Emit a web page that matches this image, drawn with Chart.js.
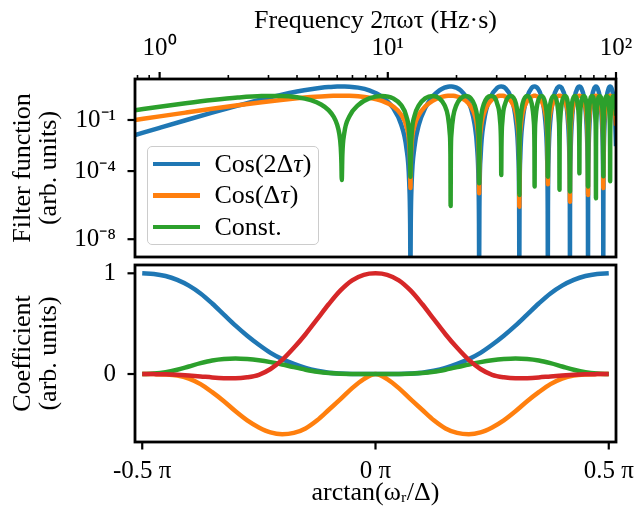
<!DOCTYPE html>
<html>
<head>
<meta charset="utf-8">
<script src="https://cdn.jsdelivr.net/npm/chart.js@4.4.1/dist/chart.umd.min.js"></script>
<style>
  html, body { margin: 0; padding: 0; background: #fff; }
  #wrap { position: relative; width: 637px; height: 508px; overflow: hidden; }
  #wrap canvas { position: absolute; left: 0; }
  #legend { position: absolute; left: 146.5px; top: 146px; width: 172px; height: 99px; box-sizing: border-box;
            border: 1.3px solid #cccccc; border-radius: 5px; background: rgba(255,255,255,0.8);
            padding: 1px 0 0 5px; font: 26px 'Liberation Serif', 'Times New Roman', serif; color: #000; }
  #legend .row { height: 31.5px; display: flex; align-items: center; white-space: nowrap; }
  #legend .sw { display: inline-block; width: 47px; height: 4.5px; margin-right: 15px; }
</style>
</head>
<body>
<div id="wrap">
  <canvas id="topChart" width="637" height="261" style="top:0;width:637px;height:261px"></canvas>
  <canvas id="botChart" width="637" height="247" style="top:261px;width:637px;height:247px"></canvas>
  <div id="legend"></div>
</div>
<script>
// ================= DATA =================
// Top panel: filter functions vs frequency 2πωτ (Hz·s)
const freq = [
  0.78, 1.0, 1.3, 1.7, 2.2, 2.8, 3.4, 4.0, 4.6, 5.1, 5.5, 5.8, 6.0, 6.13, 6.22, 6.262,
  6.2832,
  6.3209, 6.4403, 6.7858, 7.4142, 8.2938, 9.4248, 10.5558, 11.4354, 12.0637, 12.4093, 12.5287,
  12.5664,
  12.6041, 12.7234, 13.0690, 13.6973, 14.5770, 15.7080, 16.8389, 17.7186, 18.3469, 18.6925, 18.8119,
  18.8496,
  18.8873, 19.0067, 19.3522, 19.9806, 20.8602, 21.9911, 23.1221, 24.0017, 24.6301, 24.9757, 25.0950,
  25.1327,
  25.1956, 25.5097, 26.3894, 28.2743, 30.1593, 31.0389, 31.3531,
  31.4159,
  31.4788, 31.7929, 32.6726, 34.5575, 36.4425, 37.3221, 37.6363,
  37.6991,
  37.7620, 38.0761, 38.9557, 40.8407, 42.7257, 43.6053, 43.9195,
  43.9823,
  44.0451, 44.3593, 45.2389, 47.1239, 49.0089, 49.8885, 50.2027,
  50.2655,
  50.3283, 50.6425, 51.5221, 53.4071, 55.2920, 56.1717, 56.4858,
  56.5487,
  56.6115, 56.9257, 57.8053, 59.6903, 61.5752, 62.4549, 62.7690,
  62.8319,
  62.8947, 63.2088, 64.0885, 65.9734, 67.8584, 68.7381, 69.0522,
  69.1150,
  69.1779, 69.4920, 70.3717, 72.2566, 74.1416, 75.0212, 75.3354,
  75.3982,
  75.4611, 75.7752, 76.6549, 78.5398, 80.4248, 81.3044, 81.6186,
  81.6814,
  81.7443, 82.0584, 82.9380, 84.8230, 86.7080, 87.5876, 87.9018,
  87.9646,
  88.0274, 88.3416, 89.2212, 91.1062, 92.9911, 93.8708, 94.1850,
  94.2478,
  94.3106, 94.6248, 95.5044, 97.3894, 99.2743, 100
];
const filterCos2 = [
  0.0131, 0.0348, 0.0967, 0.269, 0.694, 1.60, 2.96, 4.66, 6.46, 7.79, 8.61, 9.03, 9.21, 9.27, 9.30, 9.30,
  9.30,
  9.30, 9.27, 9.01, 7.91, 5.48, 2.325, 0.501, 0.0563, 2.29e-3, 2.21e-5, 7.34e-8,
  1e-10,
  7.34e-8, 2.21e-5, 2.29e-3, 0.0563, 0.501, 2.325, 5.48, 7.91, 9.01, 9.27, 9.30,
  9.30,
  9.30, 9.27, 9.01, 7.91, 5.48, 2.325, 0.501, 0.0563, 2.29e-3, 2.21e-5, 7.34e-8,
  1e-10,
  5.66e-7, 7.29e-4, 0.0848, 2.325, 7.61, 9.14, 9.30,
  9.30,
  9.30, 9.14, 7.61, 2.325, 0.0848, 7.29e-4, 5.66e-7,
  1e-10,
  5.66e-7, 7.29e-4, 0.0848, 2.325, 7.61, 9.14, 9.30,
  9.30,
  9.30, 9.14, 7.61, 2.325, 0.0848, 7.29e-4, 5.66e-7,
  1e-10,
  5.66e-7, 7.29e-4, 0.0848, 2.325, 7.61, 9.14, 9.30,
  9.30,
  9.30, 9.14, 7.61, 2.325, 0.0848, 7.29e-4, 5.66e-7,
  1e-10,
  5.66e-7, 7.29e-4, 0.0848, 2.325, 7.61, 9.14, 9.30,
  9.30,
  9.30, 9.14, 7.61, 2.325, 0.0848, 7.29e-4, 5.66e-7,
  1e-10,
  5.66e-7, 7.29e-4, 0.0848, 2.325, 7.61, 9.14, 9.30,
  9.30,
  9.30, 9.14, 7.61, 2.325, 0.0848, 7.29e-4, 5.66e-7,
  1e-10,
  5.66e-7, 7.29e-4, 0.0848, 2.325, 7.61, 9.14, 9.30,
  9.30,
  9.30, 9.14, 7.61, 2.325, 0.0848, 2.85e-3
];
const filterCos = [
  0.0999, 0.163, 0.271, 0.452, 0.727, 1.10, 1.50, 1.88, 2.22, 2.43, 2.56, 2.62, 2.65, 2.66, 2.66, 2.66,
  2.66,
  2.66, 2.656, 2.618, 2.453, 2.043, 1.33, 0.617, 0.207, 0.0418, 4.10e-3, 2.36e-4,
  1.0e-5,
  2.36e-4, 4.10e-3, 0.0418, 0.207, 0.617, 1.33, 2.043, 2.453, 2.618, 2.656, 2.66,
  2.66,
  2.66, 2.656, 2.618, 2.453, 2.043, 1.33, 0.617, 0.207, 0.0418, 4.10e-3, 2.36e-4,
  5.0e-6,
  6.56e-4, 0.0236, 0.254, 1.33, 2.406, 2.636, 2.659,
  2.66,
  2.659, 2.636, 2.406, 1.33, 0.254, 0.0236, 6.56e-4,
  8.1e-7,
  6.56e-4, 0.0236, 0.254, 1.33, 2.406, 2.636, 2.659,
  2.66,
  2.659, 2.636, 2.406, 1.33, 0.254, 0.0236, 6.56e-4,
  1.7e-5,
  6.56e-4, 0.0236, 0.254, 1.33, 2.406, 2.636, 2.659,
  2.66,
  2.659, 2.636, 2.406, 1.33, 0.254, 0.0236, 6.56e-4,
  1.6e-6,
  6.56e-4, 0.0236, 0.254, 1.33, 2.406, 2.636, 2.659,
  2.66,
  2.659, 2.636, 2.406, 1.33, 0.254, 0.0236, 6.56e-4,
  4.0e-6,
  6.56e-4, 0.0236, 0.254, 1.33, 2.406, 2.636, 2.659,
  2.66,
  2.659, 2.636, 2.406, 1.33, 0.254, 0.0236, 6.56e-4,
  1.0e-5,
  6.56e-4, 0.0236, 0.254, 1.33, 2.406, 2.636, 2.659,
  2.66,
  2.659, 2.636, 2.406, 1.33, 0.254, 0.0466
];
const filterConst = [
  0.376, 0.598, 0.952, 1.47, 2.07, 2.52, 2.56, 2.15, 1.45, 0.809, 0.379, 0.149, 0.0518, 0.0152, 0.00259, 0.000292,
  3.0e-5,
  9.24e-4, 0.016, 0.161, 0.747, 1.854, 2.6, 1.854, 0.747, 0.161, 0.016, 9.24e-4,
  4.7e-5,
  9.24e-4, 0.016, 0.161, 0.747, 1.854, 2.6, 1.854, 0.747, 0.161, 0.016, 9.24e-4,
  8.9e-7,
  9.24e-4, 0.016, 0.161, 0.747, 1.854, 2.6, 1.854, 0.747, 0.161, 0.016, 9.24e-4,
  1.9e-5,
  2.57e-3, 0.0913, 0.898, 2.6, 0.898, 0.0913, 2.57e-3,
  5.9e-5,
  2.57e-3, 0.0913, 0.898, 2.6, 0.898, 0.0913, 2.57e-3,
  4.0e-6,
  2.57e-3, 0.0913, 0.898, 2.6, 0.898, 0.0913, 2.57e-3,
  1.26e-5,
  2.57e-3, 0.0913, 0.898, 2.6, 0.898, 0.0913, 2.57e-3,
  4.7e-5,
  2.57e-3, 0.0913, 0.898, 2.6, 0.898, 0.0913, 2.57e-3,
  7.9e-6,
  2.57e-3, 0.0913, 0.898, 2.6, 0.898, 0.0913, 2.57e-3,
  6.3e-6,
  2.57e-3, 0.0913, 0.898, 2.6, 0.898, 0.0913, 2.57e-3,
  7.4e-5,
  2.57e-3, 0.0913, 0.898, 2.6, 0.898, 0.0913, 2.57e-3,
  1.26e-5,
  2.57e-3, 0.0913, 0.898, 2.6, 0.898, 0.0913, 2.57e-3,
  2.5e-6,
  2.57e-3, 0.0913, 0.898, 2.6, 0.898, 0.0913, 2.57e-3,
  5.0e-5,
  2.57e-3, 0.0913, 0.898, 2.6, 0.898, 0.0913, 2.57e-3,
  2.5e-5,
  2.57e-3, 0.0913, 0.898, 2.6, 0.898, 0.179
];
const topSeriesNames = ['Cos(2Δτ)', 'Cos(Δτ)', 'Const.'];
const freqTicks = [0.8, 0.9, 1, 2, 3, 4, 5, 6, 7, 8, 9, 10, 20, 30, 40, 50, 60, 70, 80, 90, 100];
const freqMajorTicks = [1, 10, 100];
const filterTicks = [1e-8, 1e-4, 1e-1];

// Bottom panel: coefficients vs arctan(ωr/Δ), angle in units of π
const angle = [
  -0.5, -0.475, -0.45, -0.425, -0.4, -0.375, -0.35, -0.325, -0.3, -0.275, -0.25, -0.225, -0.2, -0.175, -0.15, -0.125, -0.1, -0.075, -0.05, -0.025,
  0,
  0.025, 0.05, 0.075, 0.1, 0.125, 0.15, 0.175, 0.2, 0.225, 0.25, 0.275, 0.3, 0.325, 0.35, 0.375, 0.4, 0.425, 0.45, 0.475, 0.5
];
const coefCos2 = [
  1.0, 0.993, 0.973, 0.935, 0.878, 0.80, 0.70, 0.59, 0.48, 0.38, 0.29, 0.21, 0.148, 0.1, 0.06, 0.032, 0.013, 0.005, 0.001, 0,
  0,
  0, 0.001, 0.005, 0.013, 0.032, 0.06, 0.1, 0.148, 0.21, 0.29, 0.38, 0.48, 0.59, 0.70, 0.80, 0.878, 0.935, 0.973, 0.993, 1.0
];
const coefCos = [
  0, -0.001, -0.004, -0.015, -0.045, -0.1, -0.18, -0.27, -0.37, -0.46, -0.53, -0.58, -0.598, -0.585, -0.54, -0.46, -0.355, -0.25, -0.14, -0.05,
  0,
  -0.05, -0.14, -0.25, -0.355, -0.46, -0.54, -0.585, -0.598, -0.58, -0.53, -0.46, -0.37, -0.27, -0.18, -0.1, -0.045, -0.015, -0.004, -0.001, 0
];
const coefConst = [
  0, 0.004, 0.017, 0.042, 0.075, 0.108, 0.135, 0.15, 0.154, 0.148, 0.136, 0.118, 0.095, 0.068, 0.043, 0.022, 0.009, 0.003, 0.001, 0,
  0,
  0, 0.001, 0.003, 0.009, 0.022, 0.043, 0.068, 0.095, 0.118, 0.136, 0.148, 0.154, 0.15, 0.135, 0.108, 0.075, 0.042, 0.017, 0.004, 0
];
const coefRed = [
  0, -0.001, -0.003, -0.008, -0.015, -0.024, -0.034, -0.041, -0.043, -0.033, -0.008, 0.05, 0.14, 0.26, 0.395, 0.545, 0.695, 0.83, 0.93, 0.985,
  1.0,
  0.985, 0.93, 0.83, 0.695, 0.545, 0.395, 0.26, 0.14, 0.05, -0.008, -0.033, -0.043, -0.041, -0.034, -0.024, -0.015, -0.008, -0.003, -0.001, 0
];
const angleTicks = [-0.5, 0, 0.5];
const coefTicks = [0, 1];

// ================= STYLE / HELPERS =================
const FONT = "'Liberation Serif', 'Times New Roman', serif";
const FS = 25;
Chart.defaults.font.family = FONT;
Chart.defaults.font.size = FS;
Chart.defaults.color = '#000';

const COLORS = { blue: '#1f77b4', orange: '#ff7f0e', green: '#2ca02c', red: '#d62728' };
const SUP = { '-': '⁻', '0': '⁰', '1': '¹', '2': '²', '3': '³', '4': '⁴', '5': '⁵', '6': '⁶', '7': '⁷', '8': '⁸', '9': '⁹' };
const powLabel = v => '10' + String(Math.round(Math.log10(v))).split('').map(c => SUP[c]).join('');

const pts = (xs, ys) => xs.map((x, i) => ({ x: x, y: ys[i] }));
const lineStyle = { borderWidth: 4.5, pointRadius: 0, pointHoverRadius: 0, fill: false,
  cubicInterpolationMode: 'monotone', borderJoinStyle: 'round', borderCapStyle: 'butt', clip: 0 };

function frameAndTicks(marks) {
  return {
    id: 'frameAndTicks',
    afterDraw(chart) {
      const ctx = chart.ctx, a = chart.chartArea;
      ctx.save();
      ctx.strokeStyle = '#000';
      ctx.lineCap = 'butt';
      marks.forEach(m => {
        const sc = chart.scales[m.id];
        sc.ticks.forEach(t => {
          const p = sc.getPixelForValue(t.value);
          const len = t.major ? m.major : m.minor;
          ctx.lineWidth = t.major ? 2.2 : 1.6;
          ctx.beginPath();
          if (m.side === 'top') { ctx.moveTo(p, a.top); ctx.lineTo(p, a.top - len); }
          else if (m.side === 'bottom') { ctx.moveTo(p, a.bottom); ctx.lineTo(p, a.bottom + len); }
          else { ctx.moveTo(a.left, p); ctx.lineTo(a.left - len, p); }
          ctx.stroke();
        });
      });
      ctx.lineWidth = 2.8;
      ctx.strokeRect(a.left, a.top, a.right - a.left, a.bottom - a.top);
      ctx.restore();
    }
  };
}

const htmlLegend = {
  id: 'htmlLegend',
  afterUpdate(chart) {
    const box = document.getElementById('legend');
    box.innerHTML = '';
    chart.data.datasets.forEach(ds => {
      const row = document.createElement('div');
      row.className = 'row';
      const sw = document.createElement('span');
      sw.className = 'sw';
      sw.style.background = ds.borderColor;
      const tx = document.createElement('span');
      tx.innerHTML = ds.label.replace('τ', '<i>τ</i>');
      row.appendChild(sw);
      row.appendChild(tx);
      box.appendChild(row);
    });
  }
};

const noGrid = { display: false, drawTicks: false, drawOnChartArea: false };
const tickFont = { size: FS, lineHeight: 1 };
const titleFont = { size: 26, lineHeight: 1 };

// ================= TOP CHART =================
new Chart(document.getElementById('topChart'), {
  type: 'line',
  data: {
    datasets: [
      Object.assign({ label: topSeriesNames[0], data: pts(freq, filterCos2), borderColor: COLORS.blue, order: 3 }, lineStyle),
      Object.assign({ label: topSeriesNames[1], data: pts(freq, filterCos), borderColor: COLORS.orange, order: 2 }, lineStyle),
      Object.assign({ label: topSeriesNames[2], data: pts(freq, filterConst), borderColor: COLORS.green, order: 1 }, lineStyle)
    ]
  },
  options: {
    responsive: false, animation: false, devicePixelRatio: 1,
    layout: { padding: { left: 0, right: 21, top: 0, bottom: 4 } },
    plugins: { legend: { display: false }, tooltip: { enabled: false } },
    events: [],
    scales: {
      x: {
        type: 'logarithmic', position: 'top', min: 0.78, max: 100,
        grid: noGrid, border: { display: false },
        afterBuildTicks: s => { s.ticks = freqTicks.map(v => ({ value: v, major: freqMajorTicks.includes(v) })); },
        afterFit: s => { s.height = 79; s.paddingLeft = 0; s.paddingRight = 0; },
        ticks: { autoSkip: false, maxRotation: 0, minRotation: 0, padding: 18, font: tickFont,
          callback: v => (freqMajorTicks.includes(v) ? powLabel(v) : '') },
        title: { display: true, text: 'Frequency 2πωτ (Hz·s)', font: titleFont, padding: { top: 8, bottom: 0 } }
      },
      y: {
        type: 'logarithmic', position: 'left', min: 9e-10, max: 25.5,
        grid: noGrid, border: { display: false },
        afterBuildTicks: s => { s.ticks = filterTicks.map(v => ({ value: v, major: true })); },
        afterFit: s => { s.width = 135; s.paddingTop = 0; s.paddingBottom = 0; },
        ticks: { autoSkip: false, padding: 19, font: tickFont, callback: v => powLabel(v) },
        title: { display: true, text: ['Filter function', '(arb. units)'], font: titleFont, padding: { top: 10, bottom: 0 } }
      }
    }
  },
  plugins: [frameAndTicks([
    { id: 'x', side: 'top', major: 7, minor: 4 },
    { id: 'y', side: 'left', major: 7.5, minor: 7.5 }
  ]), htmlLegend]
});

// ================= BOTTOM CHART =================
new Chart(document.getElementById('botChart'), {
  type: 'line',
  data: {
    datasets: [
      Object.assign({ label: 'Cos(2Δτ)', data: pts(angle, coefCos2), borderColor: COLORS.blue, order: 4 }, lineStyle),
      Object.assign({ label: 'Cos(Δτ)', data: pts(angle, coefCos), borderColor: COLORS.orange, order: 3 }, lineStyle),
      Object.assign({ label: 'Const.', data: pts(angle, coefConst), borderColor: COLORS.green, order: 2 }, lineStyle),
      Object.assign({ label: 'Other', data: pts(angle, coefRed), borderColor: COLORS.red, order: 1 }, lineStyle)
    ]
  },
  options: {
    responsive: false, animation: false, devicePixelRatio: 1,
    layout: { padding: { left: 0, right: 21, top: 4, bottom: 0 } },
    plugins: { legend: { display: false }, tooltip: { enabled: false } },
    events: [],
    scales: {
      x: {
        type: 'linear', position: 'bottom', min: -0.5155, max: 0.5155,
        grid: noGrid, border: { display: false },
        afterBuildTicks: s => { s.ticks = angleTicks.map(v => ({ value: v, major: true })); },
        afterFit: s => { s.height = 66; s.paddingLeft = 0; s.paddingRight = 0; },
        ticks: { autoSkip: false, maxRotation: 0, minRotation: 0, padding: 17, font: tickFont,
          callback: v => (v === 0 ? '0' : String(v)) + ' π' },
        title: { display: true, text: 'arctan(ωᵣ/Δ)', font: titleFont, padding: { top: 0, bottom: 2 } }
      },
      y: {
        type: 'linear', position: 'left', min: -0.675, max: 1.0824,
        grid: noGrid, border: { display: false },
        afterBuildTicks: s => { s.ticks = coefTicks.map(v => ({ value: v, major: true })); },
        afterFit: s => { s.width = 135; s.paddingTop = 0; s.paddingBottom = 0; },
        ticks: { autoSkip: false, padding: 19, font: tickFont, callback: v => String(v) },
        title: { display: true, text: ['Coefficient', '(arb. units)'], font: titleFont, padding: { top: 10, bottom: 0 } }
      }
    }
  },
  plugins: [frameAndTicks([
    { id: 'x', side: 'bottom', major: 7.5, minor: 7.5 },
    { id: 'y', side: 'left', major: 7.5, minor: 7.5 }
  ])]
});
</script>
</body>
</html>
